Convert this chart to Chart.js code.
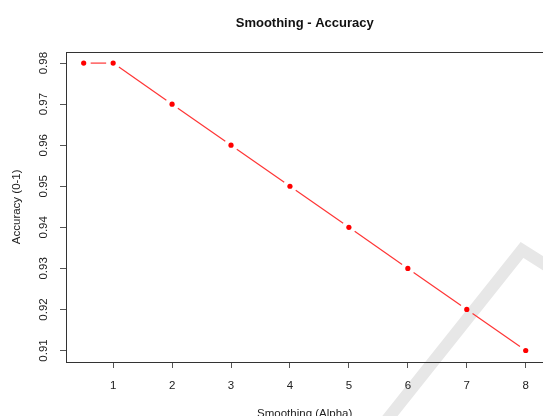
<!DOCTYPE html>
<html>
<head>
<meta charset="utf-8">
<script src="https://cdn.jsdelivr.net/npm/chart.js@4.4.1/dist/chart.umd.min.js"></script>
<style>
html, body { margin: 0; padding: 0; background: #fff; overflow: hidden; }
#wrap { width: 546px; height: 422px; }
</style>
</head>
<body>
<div id="wrap"><canvas id="accuracyChart" width="546" height="422"></canvas></div>
<script>
// ===== DATA =====
var alphaValues = [0.5, 1, 2, 3, 4, 5, 6, 7, 8];
var accuracyValues = [0.98, 0.98, 0.97, 0.96, 0.95, 0.94, 0.93, 0.92, 0.91];
var xTickValues = [1, 2, 3, 4, 5, 6, 7, 8];
var yTickValues = [0.91, 0.92, 0.93, 0.94, 0.95, 0.96, 0.97, 0.98];

var FONT = 'Liberation Sans, Arial, Helvetica, sans-serif';

// grey diagonal watermark behind the plot
var watermarkPlugin = {
    id: 'watermark',
    beforeDraw: function(chart) {
        var ctx = chart.ctx;
        ctx.save();
        ctx.strokeStyle = '#e7e7e7';
        ctx.lineWidth = 12;
        ctx.lineJoin = 'miter';
        ctx.beginPath();
        ctx.moveTo(382, 426);
        ctx.lineTo(522, 250);
        ctx.lineTo(560, 274);
        ctx.stroke();
        ctx.restore();
    }
};

// R style "b" line: segments that stop short of every point
var gapLinePlugin = {
    id: 'gapLine',
    beforeDatasetsDraw: function(chart) {
        var meta = chart.getDatasetMeta(0);
        var ctx = chart.ctx;
        var gap = 7;
        ctx.save();
        ctx.strokeStyle = '#ff3535';
        ctx.lineWidth = 1.2;
        for (var i = 1; i < meta.data.length; i++) {
            var a = meta.data[i - 1], b = meta.data[i];
            var dx = b.x - a.x, dy = b.y - a.y;
            var len = Math.sqrt(dx * dx + dy * dy);
            if (len <= gap * 2) continue;
            var ux = dx / len, uy = dy / len;
            ctx.beginPath();
            ctx.moveTo(a.x + ux * gap, a.y + uy * gap);
            ctx.lineTo(b.x - ux * gap, b.y - uy * gap);
            ctx.stroke();
        }
        ctx.restore();
    }
};

// full box round the plot area
var boxPlugin = {
    id: 'plotBox',
    afterDatasetsDraw: function(chart) {
        var a = chart.chartArea;
        var ctx = chart.ctx;
        ctx.save();
        ctx.strokeStyle = '#333';
        ctx.lineWidth = 1;
        ctx.strokeRect(Math.round(a.left) + 0.5, Math.round(a.top) + 0.5,
            Math.round(a.right - a.left), Math.round(a.bottom - a.top));
        ctx.restore();
    }
};

var points = alphaValues.map(function(x, i) { return { x: x, y: accuracyValues[i] }; });

new Chart(document.getElementById('accuracyChart').getContext('2d'), {
    type: 'scatter',
    data: {
        datasets: [{
            data: points,
            showLine: false,
            pointRadius: 2.6,
            pointBackgroundColor: '#ff0000',
            pointBorderWidth: 0,
            pointHoverRadius: 2.6
        }]
    },
    options: {
        responsive: false,
        animation: false,
        layout: { padding: 0 },
        plugins: {
            legend: { display: false },
            tooltip: { enabled: false },
            title: {
                display: true,
                text: 'Smoothing - Accuracy',
                fullSize: false,
                color: '#111',
                font: { family: FONT, size: 13, weight: 'bold', lineHeight: 1.2 },
                padding: { top: 16, bottom: 20 }
            }
        },
        scales: {
            x: {
                type: 'linear',
                min: 0.2,
                max: 8.3,
                afterBuildTicks: function(s) {
                    s.ticks = xTickValues.map(function(v) { return { value: v }; });
                },
                afterFit: function(s) { s.height = 60; },
                border: { display: false },
                grid: { drawOnChartArea: false, drawTicks: true, tickLength: 6, color: '#555' },
                ticks: {
                    color: '#222',
                    padding: 11,
                    maxRotation: 0,
                    font: { family: FONT, size: 11.5 },
                    callback: function(v) { return String(v); }
                },
                title: {
                    display: true,
                    text: 'Smoothing (Alpha)',
                    color: '#222',
                    font: { family: FONT, size: 11.5, lineHeight: 1.2 },
                    padding: { top: 0, bottom: 1 }
                }
            },
            y: {
                type: 'linear',
                min: 0.9072,
                max: 0.9828,
                afterBuildTicks: function(s) {
                    s.ticks = yTickValues.map(function(v) { return { value: v }; });
                },
                afterFit: function(s) { s.width = 66; },
                border: { display: false },
                grid: { drawOnChartArea: false, drawTicks: true, tickLength: 6, color: '#555' },
                ticks: {
                    color: '#222',
                    padding: 5,
                    minRotation: 90,
                    maxRotation: 90,
                    crossAlign: 'center',
                    font: { family: FONT, size: 11.5 },
                    callback: function(v) { return v.toFixed(2); }
                },
                title: {
                    display: true,
                    text: 'Accuracy (0-1)',
                    color: '#222',
                    font: { family: FONT, size: 11.5, lineHeight: 1.2 },
                    padding: { top: 10, bottom: 0 }
                }
            }
        }
    },
    plugins: [watermarkPlugin, gapLinePlugin, boxPlugin]
});
</script>
</body>
</html>
